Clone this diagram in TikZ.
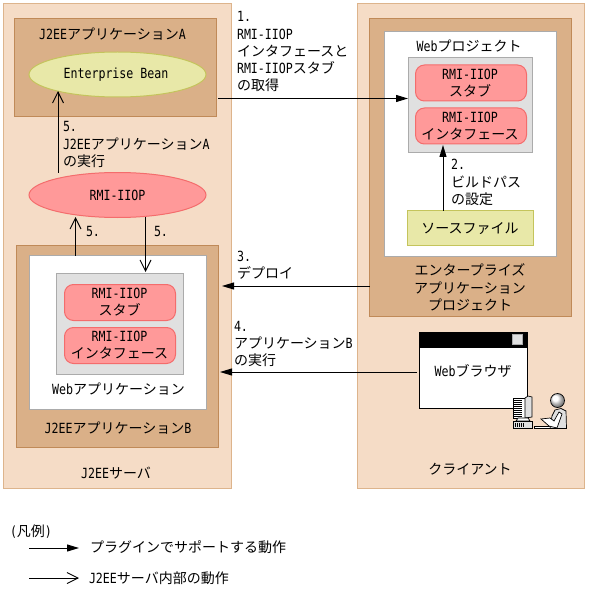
\documentclass[tikz,border=0pt]{standalone}
\usepackage{fontspec}
\usetikzlibrary{arrows.meta,shapes.geometric,calc}
\setmainfont[FakeStretch=0.83]{DejaVu Sans Mono}
\newfontfamily\jfont{Noto Sans CJK JP}
\newcommand{\J}[1]{{\jfont #1}}
\definecolor{outerfill}{HTML}{F5DCC6}
\definecolor{outerline}{HTML}{DDB48C}
\definecolor{appfill}{HTML}{DAB088}
\definecolor{appline}{HTML}{C08A58}
\definecolor{pinkfill}{HTML}{FF9999}
\definecolor{pinkline}{HTML}{F46C6C}
\definecolor{yelfill}{HTML}{E8E8A8}
\definecolor{yelline}{HTML}{C4C45C}
\definecolor{grayfill}{HTML}{E0E0E0}
\definecolor{grayline}{HTML}{ABABAB}
\tikzset{
  x=1pt,y=-1pt,
  every node/.style={inner sep=0pt,outer sep=0pt,font=\fontsize{14}{17.3}\selectfont},
  box/.style={draw,rectangle,line width=1pt,anchor=north west},
  outerbox/.style={box,draw=outerline,fill=outerfill},
  appbox/.style={box,draw=appline,fill=appfill},
  whitebox/.style={box,draw=grayline,fill=white},
  graybox/.style={box,draw=grayline,fill=grayfill},
  pinkbox/.style={box,draw=pinkline,fill=pinkfill,rounded corners=9pt,align=center},
  yelbox/.style={box,draw=yelline,fill=yelfill},
  pinkell/.style={draw=pinkline,fill=pinkfill,ellipse,line width=1pt},
  yelell/.style={draw=yelline,fill=yelfill,ellipse,line width=1pt},
  lbl/.style={align=left,anchor=north west},
  captext/.style={anchor=center,align=center},
  plugarrow/.style={line width=1pt,-{Triangle[length=12pt,width=7pt]}},
  innerarrow/.style={line width=1pt,-{Straight Barb[length=11pt,width=11pt,line width=0.9pt]}},
  iconline/.style={black,line width=0.7pt},
}
\newcommand{\bx}[6]{\node[#1,minimum width=#4pt,minimum height=#5pt] (#2) at #3 {#6};}
\begin{document}
\begin{tikzpicture}
\useasboundingbox (0,0) rectangle (588,596);
% outer
\bx{outerbox}{server}{(3.5,3.5)}{227.5}{484.5}{}
\bx{outerbox}{client}{(357.5,3.5)}{226.5}{485}{}
\node[captext] (serverlbl) at (116,473) {J2EE\J{サーバ}};
\node[captext] (clientlbl) at (470,469) {\J{クライアント}};
% app A
\bx{appbox}{appA}{(14.5,18.5)}{202}{98.5}{}
\node[captext] (appAlbl) at (112.5,34) {J2EE\J{アプリケーション}A};
\node[yelell,minimum width=177pt,minimum height=45pt] (bean) at (117.5,74.5) {Enterprise Bean\hspace*{3pt}};
\node[pinkell,minimum width=177pt,minimum height=45pt] (rmi) at (117.5,195) {RMI-IIOP};
% app B
\bx{appbox}{appB}{(16.5,245.5)}{202}{202}{}
\bx{whitebox}{webapp}{(29.5,255.5)}{177}{154}{}
\bx{graybox}{grayB}{(56.5,273.5)}{127}{101}{}
\bx{pinkbox}{stubB}{(64.5,284.5)}{111}{36}{}
\bx{pinkbox}{ifB}{(64.5,327.5)}{111}{36}{}
\node[captext] (stubBt) at (119.5,302) {RMI-IIOP\\[-0.5pt]\J{スタブ}};
\node[captext] (ifBt) at (119.5,345) {RMI-IIOP\\[-0.5pt]\J{インタフェース}};
\node[captext] (webapplbl) at (118.5,389) {Web\J{アプリケーション}};
\node[captext] (appBlbl) at (118,428) {J2EE\J{アプリケーション}B};
% project
\bx{appbox}{proj}{(369.5,18.5)}{202}{298}{}
\bx{whitebox}{webprj}{(384.5,31.5)}{172}{224.5}{}
\bx{graybox}{grayP}{(408.5,57.5)}{124}{95}{}
\bx{pinkbox}{stubP}{(415.5,65)}{111}{36}{}
\bx{pinkbox}{ifP}{(415.5,108)}{111}{36}{}
\node[captext] (stubPt) at (470,83) {RMI-IIOP\\[-0.5pt]\J{スタブ}};
\node[captext] (ifPt) at (470,126) {RMI-IIOP\\[-0.5pt]\J{インタフェース}};
\node[captext] (webprjlbl) at (469,45.5) {Web\J{プロジェクト}};
\bx{yelbox}{src}{(407.5,210.5)}{126}{35}{}
\node[captext] (srcl) at (470,228.5) {\J{ソースファイル}};
\node[captext] (projl) at (470,287.5) {\J{エンタープライズ}\\\J{アプリケーション}\\\J{プロジェクト}};
% browser
\bx{box,draw=black,fill=white}{win}{(419.5,332.5)}{108}{76}{}
\fill[black] (419.5,332.5) rectangle (527.5,348);
\draw[grayline,fill=grayfill,line width=1pt] (512.5,334.5) rectangle (522.5,344.5);
\node[captext] (winl) at (473,371) {Web\J{ブラウザ}};
% computer icon
\draw[iconline,fill=white] (513,398) -- (525,398) -- (525,418) -- (513,418) -- cycle;
\foreach \yy in {400,402,404,406,408,410,412,414,416} \draw[iconline] (513,\yy) -- (522,\yy);
\draw[iconline,fill=grayfill] (525,398) -- (528,396) -- (532,397) -- (532,417) -- (525,418) -- cycle;
\draw[iconline,fill=white] (518,418) -- (528,418) -- (530,421) -- (516,421) -- cycle;
\draw[iconline,fill=grayfill] (513,421) rectangle (532,428.5);
\foreach \xx in {515,517,519,521,523} \draw[iconline] (\xx,423) -- (\xx,427);
\draw[iconline,fill=white] (534,426.5) rectangle (550,428.5);
% person icon
\shade[ball color=white] (557.5,400.5) circle (7);
\draw[iconline] (557.5,400.5) circle (7);
\draw[iconline,fill=grayfill] (550,428.5) -- (552,416) -- (555,410) -- (561,408.5) -- (566,411) -- (566.5,428.5) -- cycle;
\draw[iconline,fill=white] (541,419) -- (550,418) -- (554,421) -- (559,412) -- (562,414) -- (557,428) -- (549,426) -- cycle;
% connector anchors
\coordinate (a1s) at (218,98.5);
\coordinate (a1e) at (408,98.5);
\coordinate (a2s) at (443,210.5);
\coordinate (a2e) at (443,145);
\coordinate (a3s) at (369.5,286);
\coordinate (a3e) at (222,286);
\coordinate (a4s) at (417,372);
\coordinate (a4e) at (220,372);
\coordinate (a5as) at (58,172.5);
\coordinate (a5ae) at (58,91);
\coordinate (a5bs) at (75.5,255.5);
\coordinate (a5be) at (75.5,217);
\coordinate (a5cs) at (145.5,217);
\coordinate (a5ce) at (145.5,272);
\coordinate (l1s) at (29,548);
\coordinate (l1e) at (79,548);
\coordinate (l2s) at (29,578);
\coordinate (l2e) at (79,578);
\draw[plugarrow] (a1s) -- (a1e);
\draw[plugarrow] (a2s) -- (a2e);
\draw[plugarrow] (a3s) -- (a3e);
\draw[plugarrow] (a4s) -- (a4e);
\draw[innerarrow] (a5as) -- (a5ae);
\draw[innerarrow] (a5bs) -- (a5be);
\draw[innerarrow] (a5cs) -- (a5ce);
\draw[plugarrow] (l1s) -- (l1e);
\draw[innerarrow] (l2s) -- (l2e);
% labels
\node[lbl] (t1) at (237,11.5) {1.\\RMI-IIOP\\\J{インタフェースと}\\RMI-IIOP\J{スタブ}\\\J{の取得}};
\node[lbl] (t2) at (451,159.5) {2.\\\J{ビルドパス}\\\J{の設定}};
\node[lbl] (t3) at (237,251) {3.\\\J{デプロイ}};
\node[lbl] (t4) at (234,321) {4.\\\J{アプリケーション}B\\\J{の実行}};
\node[lbl] (t5a) at (63,121.5) {5.\\J2EE\J{アプリケーション}A\\\J{の実行}};
\node[lbl] (t5b) at (86,226.5) {5.};
\node[lbl] (t5c) at (154,226.5) {5.};
\node[lbl] (leg) at (10,525) {(\J{凡例})};
\node[anchor=west] (leg1) at (90,547) {\J{プラグインでサポートする動作}};
\node[anchor=west] (leg2) at (89,578) {J2EE\J{サーバ内部の動作}};
\end{tikzpicture}
\end{document}
